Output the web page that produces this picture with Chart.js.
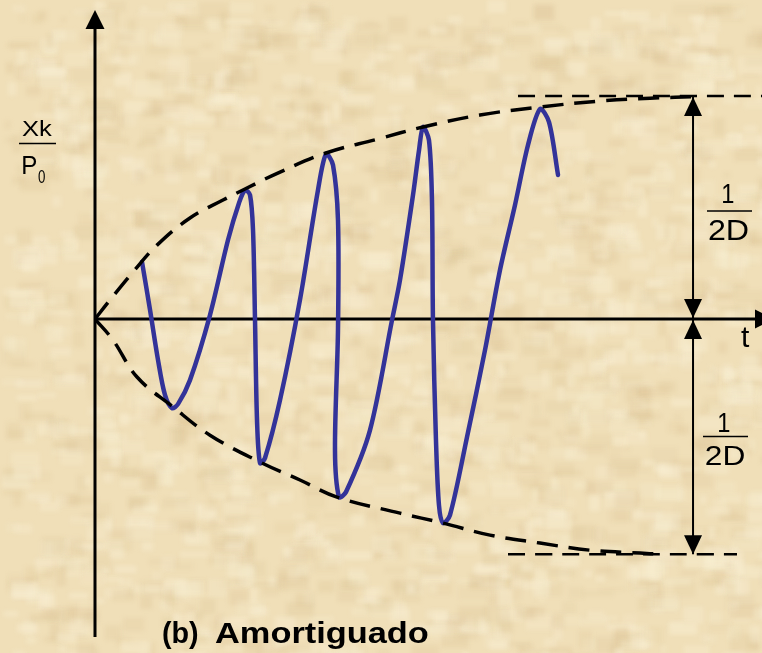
<!DOCTYPE html>
<html>
<head>
<meta charset="utf-8">
<title>Amortiguado</title>
<script src="https://cdn.jsdelivr.net/npm/chart.js@4/dist/chart.umd.min.js"></script>
<style>
  html, body { margin: 0; padding: 0; background: #f0dfb7; }
  #wrap { width: 762px; height: 653px; }
</style>
</head>
<body>
<div id="wrap"><canvas id="resp" width="762" height="653"></canvas></div>
<script>
// response curve (t, Xk/P0 in units of 1/2D)
const waveT = [0.705, 0.825, 0.945, 1.049, 1.154, 1.244, 1.424, 1.724, 1.994, 2.159, 2.249,
  2.324, 2.369, 2.399, 2.429, 2.474, 2.549, 2.774, 3.073, 3.343, 3.463,
  3.568, 3.643, 3.643, 3.598, 3.658, 3.763, 4.123, 4.453, 4.573, 4.768, 4.858, 4.918,
  5.007, 5.052, 5.067, 5.112, 5.157, 5.217, 5.322, 5.577, 5.847, 6.072, 6.297, 6.492, 6.672,
  6.807, 6.942];
const waveY = [0.257, 0.041, -0.185, -0.342, -0.401, -0.383, -0.275, 0.018, 0.356, 0.523, 0.581,
  0.559, 0.401, -0.005, -0.455, -0.649, -0.626, -0.365, 0.086, 0.581, 0.743,
  0.694, 0.446, -0.050, -0.590, -0.802, -0.779, -0.500, -0.005, 0.176, 0.559, 0.761, 0.865,
  0.806, 0.536, -0.005, -0.545, -0.838, -0.919, -0.883, -0.532, -0.140, 0.221, 0.514, 0.784, 0.946,
  0.887, 0.649];

// envelopes
const upperT = [0, 0.225, 0.570, 0.930, 1.424, 1.919, 2.249, 2.774, 3.463, 4.243, 4.918, 5.772, 6.672, 7.571, 8.321, 9.070];
const upperY = [0, 0.086, 0.212, 0.333, 0.455, 0.536, 0.586, 0.662, 0.748, 0.811, 0.865, 0.919, 0.955, 0.982, 0.995, 1.002];
const lowerT = [0, 0.270, 0.630, 1.154, 1.724, 2.474, 3.073, 3.628, 4.573, 5.217, 5.922, 6.672, 7.421, 8.171, 8.471];
const lowerY = [0, -0.095, -0.261, -0.392, -0.523, -0.644, -0.725, -0.802, -0.874, -0.919, -0.973, -1.009, -1.041, -1.054, -1.059];

// steady-state levels +-1/2D and where their dashed lines run
const levels = [1.005, -1.059];
const levelFrom = [6.342, 6.192];
const levelTo = [10, 9.625];

// dimension line for 1/2D
const dimT = 8.966;

const pts = (xs, ys) => xs.map((x, i) => ({ x: x, y: ys[i] }));

function tri(ctx, tx, ty, dx, dy, len, half) {
  // arrowhead with tip at (tx,ty) pointing along (dx,dy)
  const bx = tx - dx * len, by = ty - dy * len;
  ctx.beginPath();
  ctx.moveTo(tx, ty);
  ctx.lineTo(bx - dy * half, by + dx * half);
  ctx.lineTo(bx + dy * half, by - dx * half);
  ctx.closePath();
  ctx.fill();
}

function fitText(ctx, txt, font, left, right, base) {
  ctx.font = font;
  const m = ctx.measureText(txt);
  const ink = m.actualBoundingBoxLeft + m.actualBoundingBoxRight;
  ctx.save();
  ctx.translate(left, base);
  ctx.scale((right - left) / ink, 1);
  ctx.fillText(txt, m.actualBoundingBoxLeft, 0);
  ctx.restore();
}

function hline(ctx, x1, x2, y, w) {
  ctx.lineWidth = w;
  ctx.beginPath();
  ctx.moveTo(x1, y);
  ctx.lineTo(x2, y);
  ctx.stroke();
}

const decor = {
  id: 'decor',
  beforeDraw(chart) {
    // parchment background
    const ctx = chart.ctx, w = chart.width, h = chart.height;
    ctx.save();
    ctx.fillStyle = '#f0dfb8';
    ctx.fillRect(0, 0, w, h);
    let s = 12345;
    const rnd = () => { s = (s * 16807) % 2147483647; return s / 2147483647; };
    ctx.filter = 'blur(2px)';
    for (let i = 0; i < 2200; i++) {
      const x = rnd() * w, y = rnd() * h;
      const bw = 5 + rnd() * 26, bh = 4 + rnd() * 14;
      ctx.fillStyle = rnd() < 0.55
        ? 'rgba(248,238,210,' + (0.2 + rnd() * 0.3) + ')'
        : 'rgba(216,190,142,' + (0.1 + rnd() * 0.16) + ')';
      ctx.fillRect(x, y, bw, bh);
    }
    ctx.restore();
  },
  beforeDatasetsDraw(chart) {
    const ctx = chart.ctx, a = chart.chartArea;
    const sx = chart.scales.x, sy = chart.scales.y;
    const x0 = sx.getPixelForValue(0), y0 = sy.getPixelForValue(0);
    ctx.save();
    ctx.strokeStyle = '#000';
    ctx.fillStyle = '#000';
    ctx.lineWidth = 3;
    ctx.beginPath();
    ctx.moveTo(x0, a.bottom);
    ctx.lineTo(x0, a.top + 14);
    ctx.moveTo(x0, y0);
    ctx.lineTo(a.right, y0);
    ctx.stroke();
    tri(ctx, x0, a.top - 2, 0, -1, 19, 9.5);
    tri(ctx, a.right + 12, y0, 1, 0, 19, 9.5);
    ctx.restore();
  },
  afterDatasetsDraw(chart) {
    const ctx = chart.ctx;
    const sx = chart.scales.x, sy = chart.scales.y;
    const dx = sx.getPixelForValue(dimT);
    const yTop = sy.getPixelForValue(levels[0]);
    const yMid = sy.getPixelForValue(0);
    const yBot = sy.getPixelForValue(levels[1]);
    ctx.save();
    ctx.fillStyle = '#000';
    ctx.strokeStyle = '#000';
    tri(ctx, dx, yTop + 1, 0, -1, 19, 9);
    tri(ctx, dx, yMid - 1, 0, 1, 19, 9);
    tri(ctx, dx, yMid + 1, 0, -1, 19, 9);
    tri(ctx, dx, yBot, 0, 1, 19, 9);

    ctx.textBaseline = 'alphabetic';
    ctx.textAlign = 'left';
    const f = '"Liberation Sans", Arial, sans-serif';
    // Xk / P0
    fitText(ctx, 'Xk', '22px ' + f, 22, 53, 136);
    hline(ctx, 19, 56, 143.5, 1.5);
    fitText(ctx, 'P', '26px ' + f, 23, 36, 174);
    fitText(ctx, '0', '19px ' + f, 38, 45, 183);
    // t
    fitText(ctx, 't', '30px ' + f, 741, 750, 347);
    // 1/2D above and below the axis
    fitText(ctx, '1', '28px ' + f, 723, 734, 203);
    hline(ctx, 707, 752, 211, 1.5);
    fitText(ctx, '2D', '29px ' + f, 709, 748, 240);
    fitText(ctx, '1', '28px ' + f, 719, 730, 432);
    hline(ctx, 703, 748, 436.5, 1.5);
    fitText(ctx, '2D', '28px ' + f, 706, 744, 465);
    // caption
    fitText(ctx, '(b)', 'bold 29px ' + f, 163, 198, 643);
    fitText(ctx, 'Amortiguado', 'bold 29px ' + f, 215, 428, 643);
    ctx.restore();
  }
};

const dashed = (data, w, dash) => ({
  data: data, borderColor: '#000', borderWidth: w, borderDash: dash,
  pointRadius: 0, tension: 0.4, fill: false
});

new Chart(document.getElementById('resp'), {
  type: 'line',
  data: {
    datasets: [
      dashed(pts(upperT, upperY), 3.5, [21, 11]),
      dashed(pts(lowerT, lowerY), 3.5, [21, 11]),
      dashed([{ x: levelFrom[0], y: levels[0] }, { x: levelTo[0], y: levels[0] }], 2.5, [17, 10]),
      dashed([{ x: levelFrom[1], y: levels[1] }, { x: levelTo[1], y: levels[1] }], 2.5, [17, 10]),
      {
        data: [{ x: dimT, y: levels[0] }, { x: dimT, y: levels[1] }],
        borderColor: '#000', borderWidth: 2, pointRadius: 0
      },
      {
        data: pts(waveT, waveY),
        borderColor: '#333399', borderWidth: 4.5, pointRadius: 0,
        tension: 0.3, borderCapStyle: 'round', borderJoinStyle: 'round'
      }
    ]
  },
  options: {
    responsive: false,
    animation: false,
    devicePixelRatio: 1,
    layout: { padding: { left: 95, top: 12, right: 0, bottom: 16 } },
    scales: {
      x: { type: 'linear', min: 0, max: 10, display: false },
      y: { min: -1.432, max: 1.383, display: false }
    },
    plugins: { legend: { display: false }, tooltip: { enabled: false } }
  },
  plugins: [decor]
});
</script>
</body>
</html>
